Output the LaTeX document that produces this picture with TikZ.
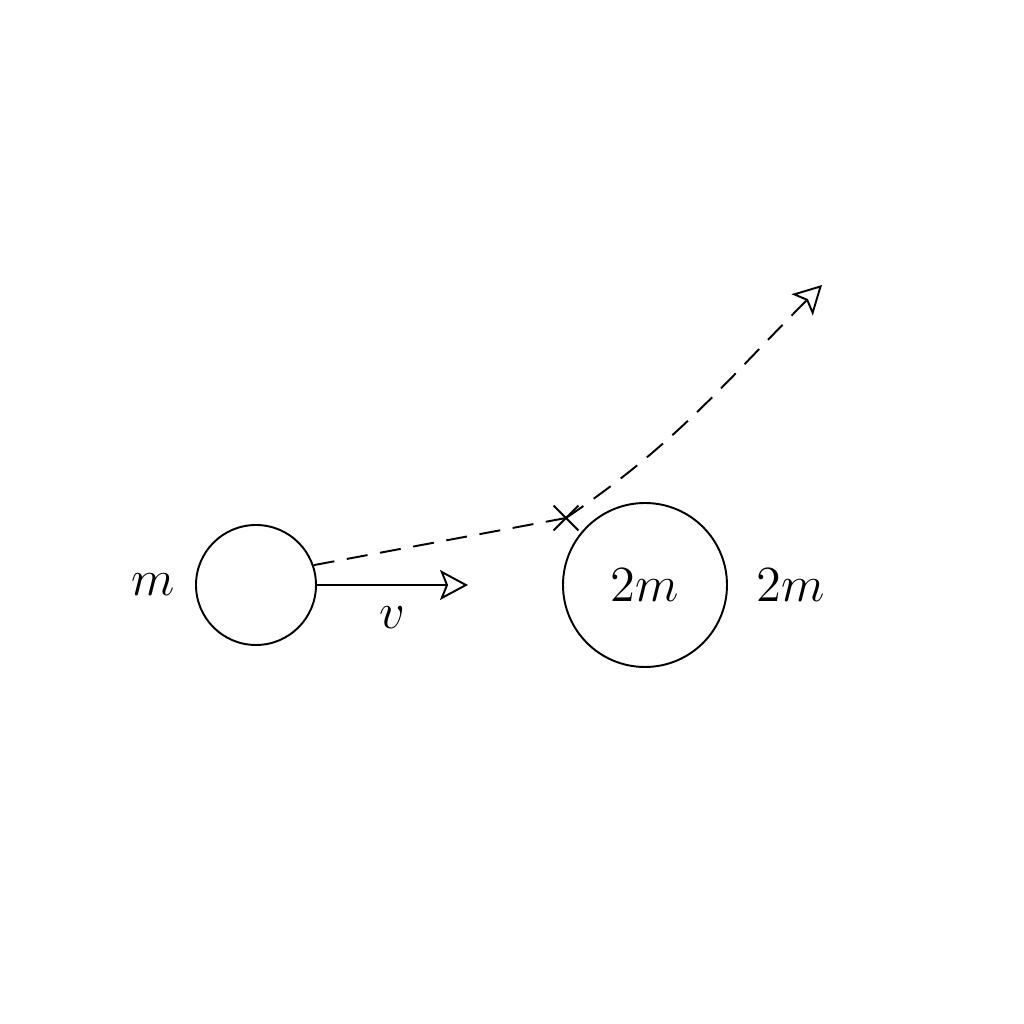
\documentclass[tikz,border=0pt]{standalone}
\usepackage{amssymb,amsmath}
\usepackage{tikz}
\usetikzlibrary{arrows.meta}
\usetikzlibrary{shapes.misc}
\usetikzlibrary{positioning}

\begin{document}
\begin{tikzpicture}[font=\fontsize{15.5}{18}\selectfont,line width=0.55pt,
  path/.style={dash pattern=on 6pt off 3.6pt},
  tip/.style={-{Stealth[open,length=0.28cm,width=0.3cm,inset=0.06cm]}}]
\useasboundingbox (0,0) rectangle (10.24,10.24);
\node[draw,circle,minimum size=1.2cm,inner sep=0] (ball) at (2.56,4.39) {};
\node[draw,circle,minimum size=1.64cm,inner sep=0] (target) at (6.45,4.39) {$2m$};
\node (mlabel) at (1.53,4.39) {$m$};
\node (Mlabel) at (7.91,4.39) {$2m$};
\coordinate (vend) at (4.68,4.39);
\node (vlabel) at (3.92,4.06) {$v$};
\draw[tip] (ball.east) -- (vend);
% point of impact
\node[draw,cross out,minimum size=0.23cm,inner sep=0] (hit) at (5.66,5.06) {};
\coordinate (away) at (8.22,7.39);
\draw[path] (ball.19) -- (hit.center);
\draw[path,tip] (hit.center) to[out=34,in=225] (away);
\end{tikzpicture}
\end{document}
